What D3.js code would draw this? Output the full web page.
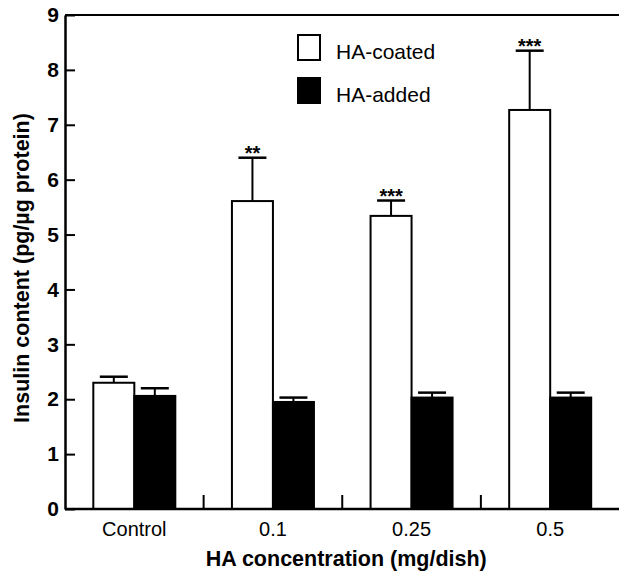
<!DOCTYPE html>
<html>
<head>
<meta charset="utf-8">
<script src="https://cdn.jsdelivr.net/npm/d3@7"></script>
<style>
  html, body { margin: 0; padding: 0; background: #fff; }
  text { font-family: "Liberation Sans", Arial, Helvetica, sans-serif; }
</style>
</head>
<body>
<div id="chart"></div>
<script>
// data
const categories = ["Control", "0.1", "0.25", "0.5"];
const series = ["HA-coated", "HA-added"];
const coated = [2.30, 5.61, 5.34, 7.27];
const coatedErr = [0.11, 0.79, 0.28, 1.08];
const added = [2.06, 1.95, 2.03, 2.03];
const addedErr = [0.14, 0.08, 0.09, 0.09];
const stars = ["", "**", "***", "***"];
const yTicks = [0, 1, 2, 3, 4, 5, 6, 7, 8, 9];

const width = 619, height = 572;
const mLeft = 65, mRight = 619.5, mTop = 15, mBottom = 509;

const svg = d3.select("#chart").append("svg")
    .attr("width", width)
    .attr("height", height);

const x = d3.scaleBand().domain(categories).range([mLeft, mRight]).padding(0);
const bw = x.bandwidth();
const barW = 41;
const xs = d3.scaleBand().domain(series).range([bw / 2 - barW, bw / 2 + barW]).padding(0);
const y = d3.scaleLinear().domain([0, 9]).range([mBottom, mTop]);

const rows = [];
categories.forEach((c, i) => {
    rows.push({ cat: c, s: series[0], v: coated[i], e: coatedErr[i], star: stars[i] });
    rows.push({ cat: c, s: series[1], v: added[i], e: addedErr[i], star: "" });
});

// top frame line
svg.append("line")
    .attr("x1", mLeft).attr("x2", width)
    .attr("y1", mTop).attr("y2", mTop)
    .attr("stroke", "#000").attr("stroke-width", 2);

// bars
const g = svg.append("g");
g.selectAll("rect")
    .data(rows)
    .join("rect")
    .attr("x", d => x(d.cat) + xs(d.s))
    .attr("y", d => y(d.v))
    .attr("width", xs.bandwidth())
    .attr("height", d => y(0) - y(d.v))
    .attr("fill", d => d.s === series[0] ? "#fff" : "#000")
    .attr("stroke", "#000")
    .attr("stroke-width", 2);

// error bars (upper only)
const eb = g.selectAll("g.err")
    .data(rows)
    .join("g")
    .attr("class", "err")
    .attr("transform", d => `translate(${x(d.cat) + xs(d.s) + xs.bandwidth() / 2},0)`);
eb.append("line")
    .attr("y1", d => y(d.v)).attr("y2", d => y(d.v + d.e))
    .attr("stroke", "#000").attr("stroke-width", 2);
eb.append("line")
    .attr("x1", -14).attr("x2", 14)
    .attr("y1", d => y(d.v + d.e)).attr("y2", d => y(d.v + d.e))
    .attr("stroke", "#000").attr("stroke-width", 2.5);
eb.filter(d => d.star).append("text")
    .attr("y", d => y(d.v + d.e) + 2)
    .attr("text-anchor", "middle")
    .style("font-size", "20px")
    .style("font-weight", "bold")
    .text(d => d.star);

// y axis
const yAxis = svg.append("g")
    .attr("transform", `translate(${mLeft},0)`)
    .call(d3.axisLeft(y).tickValues(yTicks).tickFormat(d3.format("d"))
        .tickSizeInner(-10).tickSizeOuter(0).tickPadding(6));
yAxis.select(".domain").attr("stroke-width", 2.5);
yAxis.selectAll(".tick line").attr("stroke-width", 2);
yAxis.selectAll(".tick text")
    .style("font-size", "21px")
    .style("font-weight", "bold")
    .attr("fill", "#000");

// x axis baseline and group separators
svg.append("line")
    .attr("x1", mLeft).attr("x2", width)
    .attr("y1", mBottom).attr("y2", mBottom)
    .attr("stroke", "#000").attr("stroke-width", 2.5);
svg.selectAll("line.sep")
    .data(categories.slice(1))
    .join("line")
    .attr("class", "sep")
    .attr("x1", d => x(d)).attr("x2", d => x(d))
    .attr("y1", mBottom).attr("y2", mBottom - 14)
    .attr("stroke", "#000").attr("stroke-width", 2);
svg.selectAll("text.cat")
    .data(categories)
    .join("text")
    .attr("class", "cat")
    .attr("x", d => x(d) + bw / 2)
    .attr("y", 536)
    .attr("text-anchor", "middle")
    .style("font-size", "20px")
    .text(d => d);

// axis titles
svg.append("text")
    .attr("x", (mLeft + mRight) / 2 + 4)
    .attr("y", 566)
    .attr("text-anchor", "middle")
    .style("font-size", "21.5px")
    .style("font-weight", "bold")
    .text("HA concentration (mg/dish)");
svg.append("text")
    .attr("transform", "translate(29,268) rotate(-90)")
    .attr("text-anchor", "middle")
    .style("font-size", "21.5px")
    .style("font-weight", "bold")
    .text("Insulin content (pg/µg protein)");

// legend
const legend = svg.append("g").attr("transform", "translate(298,35)");
const li = legend.selectAll("g")
    .data(series)
    .join("g")
    .attr("transform", (d, i) => `translate(0,${i * 43})`);
li.append("rect")
    .attr("width", 22).attr("height", 25)
    .attr("fill", (d, i) => i === 0 ? "#fff" : "#000")
    .attr("stroke", "#000").attr("stroke-width", 2);
li.append("text")
    .attr("x", 38).attr("y", 24)
    .style("font-size", "21px")
    .text(d => d);
</script>
</body>
</html>
